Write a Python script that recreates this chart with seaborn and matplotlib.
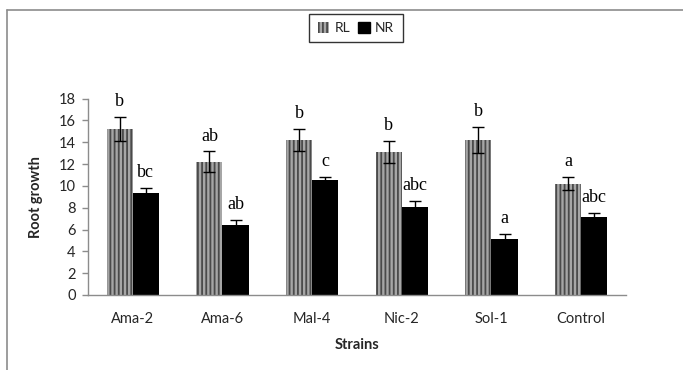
import matplotlib
matplotlib.use("Agg")
import matplotlib.pyplot as plt
import seaborn as sns
import pandas as pd
import numpy as np
from matplotlib.lines import Line2D
from matplotlib.patches import Patch

strains = ["Ama-2", "Ama-6", "Mal-4", "Nic-2", "Sol-1", "Control"]
rl_values = [15.2, 12.2, 14.2, 13.1, 14.2, 10.2]
nr_values = [9.35, 6.45, 10.5, 8.1, 5.15, 7.1]
rl_errors = [1.1, 0.95, 1.0, 1.05, 1.2, 0.6]
nr_errors = [0.45, 0.4, 0.35, 0.5, 0.4, 0.4]
rl_letters = ["b", "ab", "b", "b", "b", "a"]
nr_letters = ["bc", "ab", "c", "abc", "a", "abc"]
series = ["RL", "NR"]
y_ticks = [0, 2, 4, 6, 8, 10, 12, 14, 16, 18]

df = pd.DataFrame({
    "Strains": strains * 2,
    "Series": [series[0]] * len(strains) + [series[1]] * len(strains),
    "Value": rl_values + nr_values,
})

sns.set_theme(style="white")
plt.rcParams["font.family"] = ["Lato", "DejaVu Sans"]
plt.rcParams["hatch.linewidth"] = 1.3

W, H = 683, 370
fig = plt.figure(figsize=(W / 100, H / 100), dpi=100)
ax = fig.add_axes([88 / W, 1 - 295 / H, (626 - 88) / W, (295 - 98.5) / H])

sns.barplot(data=df, x="Strains", y="Value", hue="Series", order=strains,
            hue_order=series, palette={"RL": "#a6a6a6", "NR": "#000000"},
            width=0.58, gap=0, errorbar=None, ax=ax, legend=False,
            linewidth=0, saturation=1)

rl_bars = ax.patches[:len(strains)]
nr_bars = ax.patches[len(strains):2 * len(strains)]
for b in rl_bars:
    b.set_hatch("||||")
    b.set_edgecolor("#4a4a4a")
    b.set_linewidth(0)

for bars, vals, errs, letters in [(rl_bars, rl_values, rl_errors, rl_letters),
                                  (nr_bars, nr_values, nr_errors, nr_letters)]:
    xs = [b.get_x() + b.get_width() / 2 for b in bars]
    ax.errorbar(xs, vals, yerr=errs, fmt="none", ecolor="black",
                elinewidth=1, capsize=4, capthick=1)
    for x, v, e, t in zip(xs, vals, errs, letters):
        ax.text(x, v + e + 1.0, t, ha="center", va="baseline",
                fontsize=13, family="Liberation Serif", color="black")

ax.set_ylim(0, 18)
ax.set_xlim(-0.5, len(strains) - 0.5)
ax.set_yticks(y_ticks)
ax.set_yticklabels([str(t) for t in y_ticks], fontsize=10.5)
ax.set_xticks(range(len(strains)))
ax.set_xticklabels(strains, fontsize=10.5)
ax.set_xticks(np.arange(-0.5, len(strains), 1.0), minor=True)
ax.tick_params(axis="x", which="major", length=0, pad=12)
ax.tick_params(axis="x", which="minor", length=4, color="#8c8c8c", width=1, direction="out")
ax.tick_params(axis="y", which="major", length=4, color="#8c8c8c", width=1, direction="out", pad=5, left=True)
for s in ["top", "right"]:
    ax.spines[s].set_visible(False)
for s in ["left", "bottom"]:
    ax.spines[s].set_color("#8c8c8c")
    ax.spines[s].set_linewidth(1)

ax.set_xlabel("Strains", fontsize=10.5, fontweight="bold", labelpad=9)
ax.set_ylabel("Root growth", fontsize=10.5, fontweight="bold", labelpad=11)

handles = [Patch(facecolor="#a6a6a6", hatch="||||", edgecolor="#4a4a4a", linewidth=0, label="RL"),
           Patch(facecolor="black", edgecolor="black", label="NR")]
leg = fig.legend(handles=handles, loc="center", bbox_to_anchor=(356 / W, 1 - 28 / H),
                 ncol=2, frameon=True, fontsize=10, handlelength=0.8, handleheight=0.8,
                 handletextpad=0.4, columnspacing=0.6, borderpad=0.6, fancybox=False)
leg.get_frame().set_edgecolor("black")
leg.get_frame().set_linewidth(1)

# outer chart-area border (gray)
fig.add_artist(Line2D([7 / W, 1], [1 - 9.5 / H, 1 - 9.5 / H], color="#8c8c8c", lw=1.2, transform=fig.transFigure))
fig.add_artist(Line2D([7 / W, 7 / W], [0, 1 - 9.5 / H], color="#8c8c8c", lw=1.2, transform=fig.transFigure))

fig.savefig("out.png", dpi=100)
